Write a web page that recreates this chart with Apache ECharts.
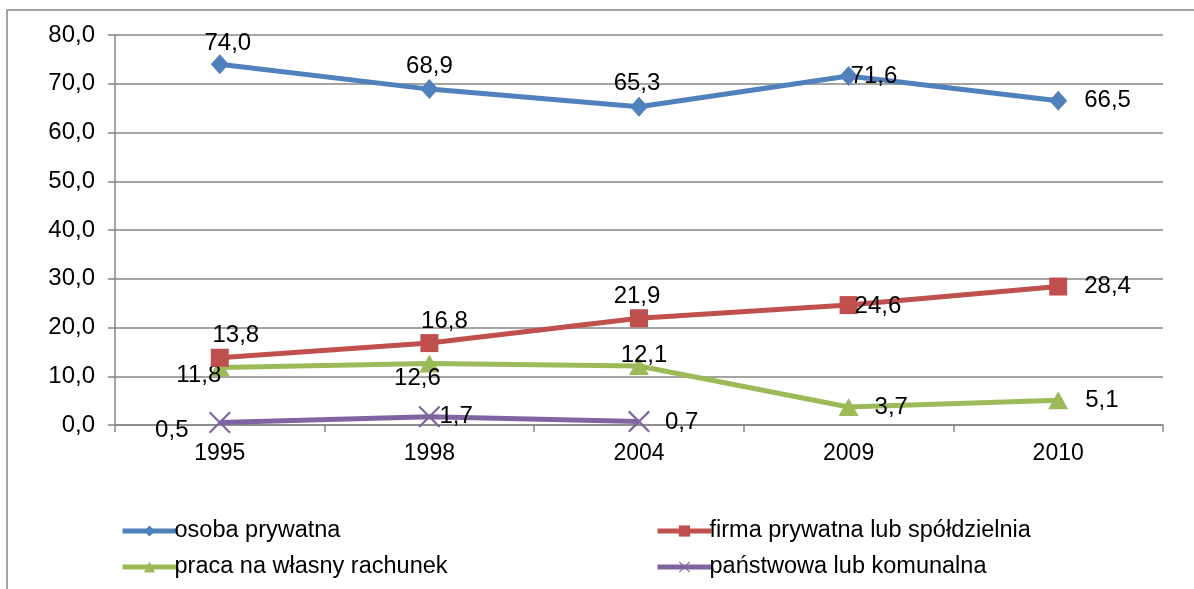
<!DOCTYPE html>
<html>
<head>
<meta charset="utf-8">
<script src="https://cdn.jsdelivr.net/npm/echarts@6/dist/echarts.min.js"></script>
<style>
  html, body { margin: 0; padding: 0; background: #fff; }
  #chart { width: 1194px; height: 589px; }
</style>
</head>
<body>
<div id="chart"></div>
<script>
// dane
const years = ['1995', '1998', '2004', '2009', '2010'];
const osobaPrywatna = [74.0, 68.9, 65.3, 71.6, 66.5];
const firmaPrywatna = [13.8, 16.8, 21.9, 24.6, 28.4];
const pracaWlasna = [11.8, 12.6, 12.1, 3.7, 5.1];
const panstwowa = [0.5, 1.7, 0.7];
const seriesNames = ['osoba prywatna', 'firma prywatna lub spółdzielnia', 'praca na własny rachunek', 'państwowa lub komunalna'];
const yTicks = [0, 10, 20, 30, 40, 50, 60, 70, 80];

// położenie etykiet (jak w Excelu)
const labelPos = [
  [['top', [8, 6]], ['top', [0, 4]], ['top', [-2, 4]], ['right', [-12, 0]], ['right', [12, 0]]],
  [['top', [16, 4]], ['top', [15, 4]], ['top', [-2, 4]], ['right', [-8, 1]], ['right', [12, 0]]],
  [['bottom', [-21, -18]], ['bottom', [-12, -11]], ['top', [5, 15]], ['right', [11, 0]], ['right', [12, 0]]],
  [['bottom', [-48, -20]], ['right', [-6, 0]], ['right', [10, 1]]],
];

const fmt = (v) => v.toFixed(1).replace('.', ',');
const colors = ['#4F81BD', '#C0504D', '#9BBB59', '#8064A2'];
const symbols = ['diamond', 'rect', 'triangle', 'path://M0,1.4L1.4,0L10,8.6L18.6,0L20,1.4L11.4,10L20,18.6L18.6,20L10,11.4L1.4,20L0,18.6L8.6,10Z'];
const symbolSizes = [[18, 20], 18, [20, 18], 22];
const allData = [osobaPrywatna, firmaPrywatna, pracaWlasna, panstwowa];
const font = 'Liberation Sans, Arial, sans-serif';

const chart = echarts.init(document.getElementById('chart'));

const series = allData.map((values, i) => ({
  name: seriesNames[i],
  type: 'line',
  data: values.map((v, j) => ({
    value: v,
    label: { position: labelPos[i][j][0], offset: labelPos[i][j][1] },
  })),
  color: colors[i],
  symbol: symbols[i],
  symbolSize: symbolSizes[i],
  showAllSymbol: true,
  lineStyle: { width: 5, color: colors[i] },
  itemStyle: { color: colors[i] },
  label: {
    show: true,
    color: '#000',
    fontSize: 24,
    fontFamily: font,
    formatter: (p) => fmt(p.value),
  },
  emphasis: { disabled: true },
  animation: false,
  z: 10 - i,
}));

const legendBase = {
  orient: 'vertical',
  top: 514,
  itemWidth: 54,
  itemHeight: 14,
  itemGap: 12,
  lineStyle: { width: 5 },
  textStyle: { fontSize: 23.5, color: '#000', fontFamily: font, padding: [0, 0, 0, -7] },
};

const option = {
  backgroundColor: '#fff',
  textStyle: { fontFamily: font },
  grid: { left: 115, right: 31, top: 35, bottom: 164 },
  graphic: [{
    type: 'rect',
    shape: { x: 7, y: 10, width: 1300, height: 700 },
    style: { fill: 'none', stroke: '#868686', lineWidth: 1.5 },
    silent: true,
    z: -1,
  }],
  legend: [
    Object.assign({}, legendBase, { data: [seriesNames[0], seriesNames[2]], left: 115 }),
    Object.assign({}, legendBase, { data: [seriesNames[1], seriesNames[3]], left: 650 }),
  ],
  xAxis: {
    type: 'category',
    data: years,
    boundaryGap: true,
    axisLine: { lineStyle: { color: '#868686', width: 1.5 } },
    axisTick: { show: true, length: 7, lineStyle: { color: '#868686', width: 1.5 } },
    axisLabel: { color: '#000', fontSize: 23, margin: 17, fontFamily: font },
  },
  yAxis: {
    type: 'value',
    min: yTicks[0],
    max: yTicks[yTicks.length - 1],
    interval: 10,
    axisLine: { show: true, lineStyle: { color: '#868686', width: 1.5 } },
    axisTick: { show: true, length: 7, lineStyle: { color: '#868686', width: 1.5 } },
    axisLabel: { color: '#000', fontSize: 24, margin: 20, fontFamily: font, formatter: (v) => fmt(v) },
    splitLine: { lineStyle: { color: '#868686', width: 1.5 } },
  },
  series,
};

chart.setOption(option);
</script>
</body>
</html>
